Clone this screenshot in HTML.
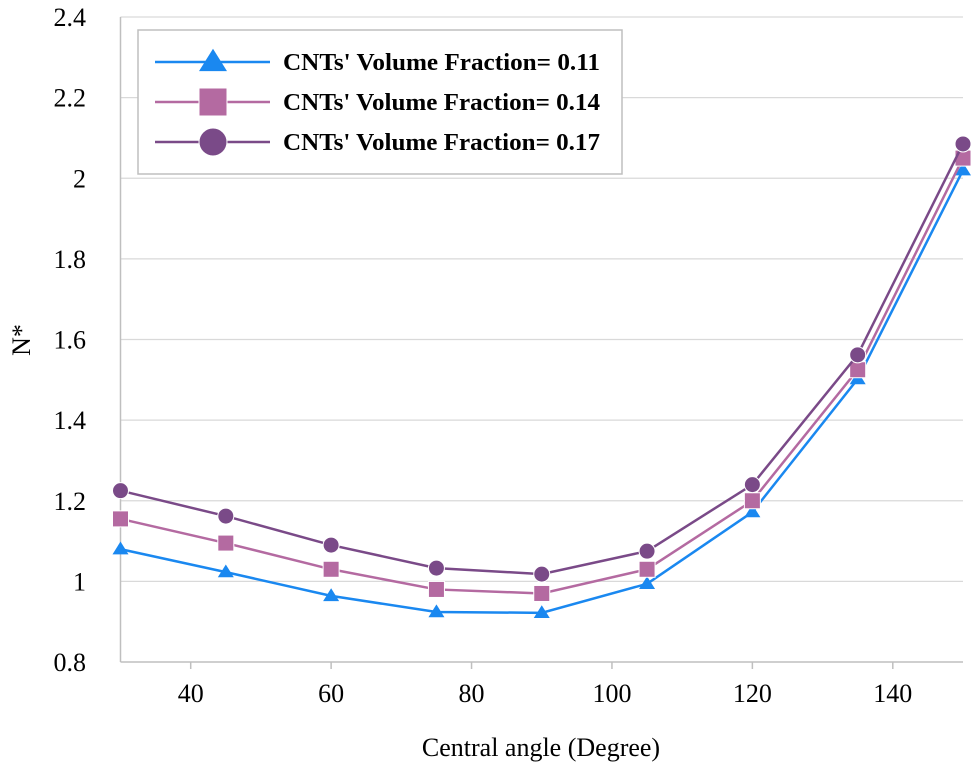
<!DOCTYPE html>
<html><head><meta charset="utf-8"><style>
html,body{margin:0;padding:0;background:#fff;}
svg{display:block;font-family:"Liberation Serif",serif;}
</style></head><body>
<svg id="chart" width="972" height="768" viewBox="0 0 972 768"></svg>
<script>
const categories=[30,45,60,75,90,105,120,135,150];
const series011=[1.08,1.023,0.964,0.924,0.922,0.994,1.172,1.502,2.02];
const series014=[1.155,1.095,1.03,0.98,0.97,1.03,1.2,1.525,2.05];
const series017=[1.225,1.162,1.09,1.033,1.018,1.075,1.24,1.562,2.085];
const yTicks=[0.8,1,1.2,1.4,1.6,1.8,2,2.2,2.4];
const yTickLabels=["0.8","1","1.2","1.4","1.6","1.8","2","2.2","2.4"];
const xTicks=[40,60,80,100,120,140];
const xTickLabels=["40","60","80","100","120","140"];
const seriesNames=["CNTs' Volume Fraction= 0.11","CNTs' Volume Fraction= 0.14","CNTs' Volume Fraction= 0.17"];

const NS="http://www.w3.org/2000/svg";
const svg=document.getElementById('chart');
const L=120.5,R=963,T=17,B=662;
const xs=v=>L+(v-30)/(150-30)*(R-L);
const ys=v=>B-(v-0.8)/(2.4-0.8)*(B-T);
function mk(tag,attrs,parent){const e=document.createElementNS(NS,tag);for(const k in attrs)e.setAttribute(k,attrs[k]);(parent||svg).appendChild(e);return e;}

yTicks.forEach((t,i)=>{
  if(i>0){const g=mk('line',{x1:L,x2:R,y1:ys(t),y2:ys(t),stroke:'#d9d9d9','stroke-width':1.3});
  
  }
  const tx=mk('text',{x:86,y:ys(t)+9,'text-anchor':'end','font-size':26,fill:'#000'});
  tx.textContent=yTickLabels[i];
  
  
});
const ax=mk('line',{x1:L,x2:L,y1:T,y2:B,stroke:'#bfbfbf','stroke-width':1.5});


const bx=mk('line',{x1:L,x2:R,y1:B,y2:B,stroke:'#bfbfbf','stroke-width':1.5});


xTicks.forEach((t,i)=>{
  const tk=mk('line',{x1:xs(t),x2:xs(t),y1:B,y2:B+7,stroke:'#bfbfbf','stroke-width':1.5});
  
  
  const tx=mk('text',{x:xs(t),y:B+40,'text-anchor':'middle','font-size':26,fill:'#000'});
  tx.textContent=xTickLabels[i];
  
  
});
const xt=mk('text',{x:541,y:756,'text-anchor':'middle','font-size':26,fill:'#000'});
xt.textContent='Central angle (Degree)';


const yt=mk('text',{x:0,y:0,'text-anchor':'middle','font-size':26,fill:'#000',transform:'translate(30,340) rotate(-90)'});
yt.textContent='N*';



function marker(type,cx,cy,color,size,parent){
  let e;
  if(type==='tri'){const s=size;e=mk('polygon',{points:`${cx},${cy-s*0.95} ${cx-s},${cy+s*0.65} ${cx+s},${cy+s*0.65}`,fill:color},parent);}
  else if(type==='sq'){e=mk('rect',{x:cx-size,y:cy-size,width:size*2,height:size*2,fill:color,stroke:'#fff','stroke-width':1},parent);}
  else{e=mk('circle',{cx:cx,cy:cy,r:size,fill:color,stroke:'#fff','stroke-width':1},parent);}
  return e;
}
const defs=[[series011,'#1a88f0','tri'],[series014,'#b46aa1','sq'],[series017,'#7a4a88','circ']];
defs.forEach(([vals,color,type],si)=>{
  const g=mk('g',{});
  
  
  const pts=vals.map((v,i)=>xs(categories[i])+','+ys(v)).join(' ');
  const pl=mk('polyline',{points:pts,fill:'none',stroke:color,'stroke-width':2.5},g);
  
  
  vals.forEach((v,i)=>{
    const m=marker(type,xs(categories[i]),ys(v),color,8,g);
    
    
  });
});

// legend
const lg=mk('g',{});


mk('rect',{x:138,y:30,width:484,height:144,fill:'#fff',stroke:'#bfbfbf','stroke-width':1.5},lg);
defs.forEach(([vals,color,type],si)=>{
  const y=62+si*40;
  const e=mk('g',{},lg);
  
  
  mk('line',{x1:155,x2:270,y1:y,y2:y,stroke:color,'stroke-width':2.5},e);
  marker(type,213,y,color,14,e);
  const t=mk('text',{x:283,y:y+8,'font-size':24,'font-weight':'bold',fill:'#000',textLength:317,lengthAdjust:'spacingAndGlyphs'},e);
  t.textContent=seriesNames[si];
});
</script>
</body></html>
